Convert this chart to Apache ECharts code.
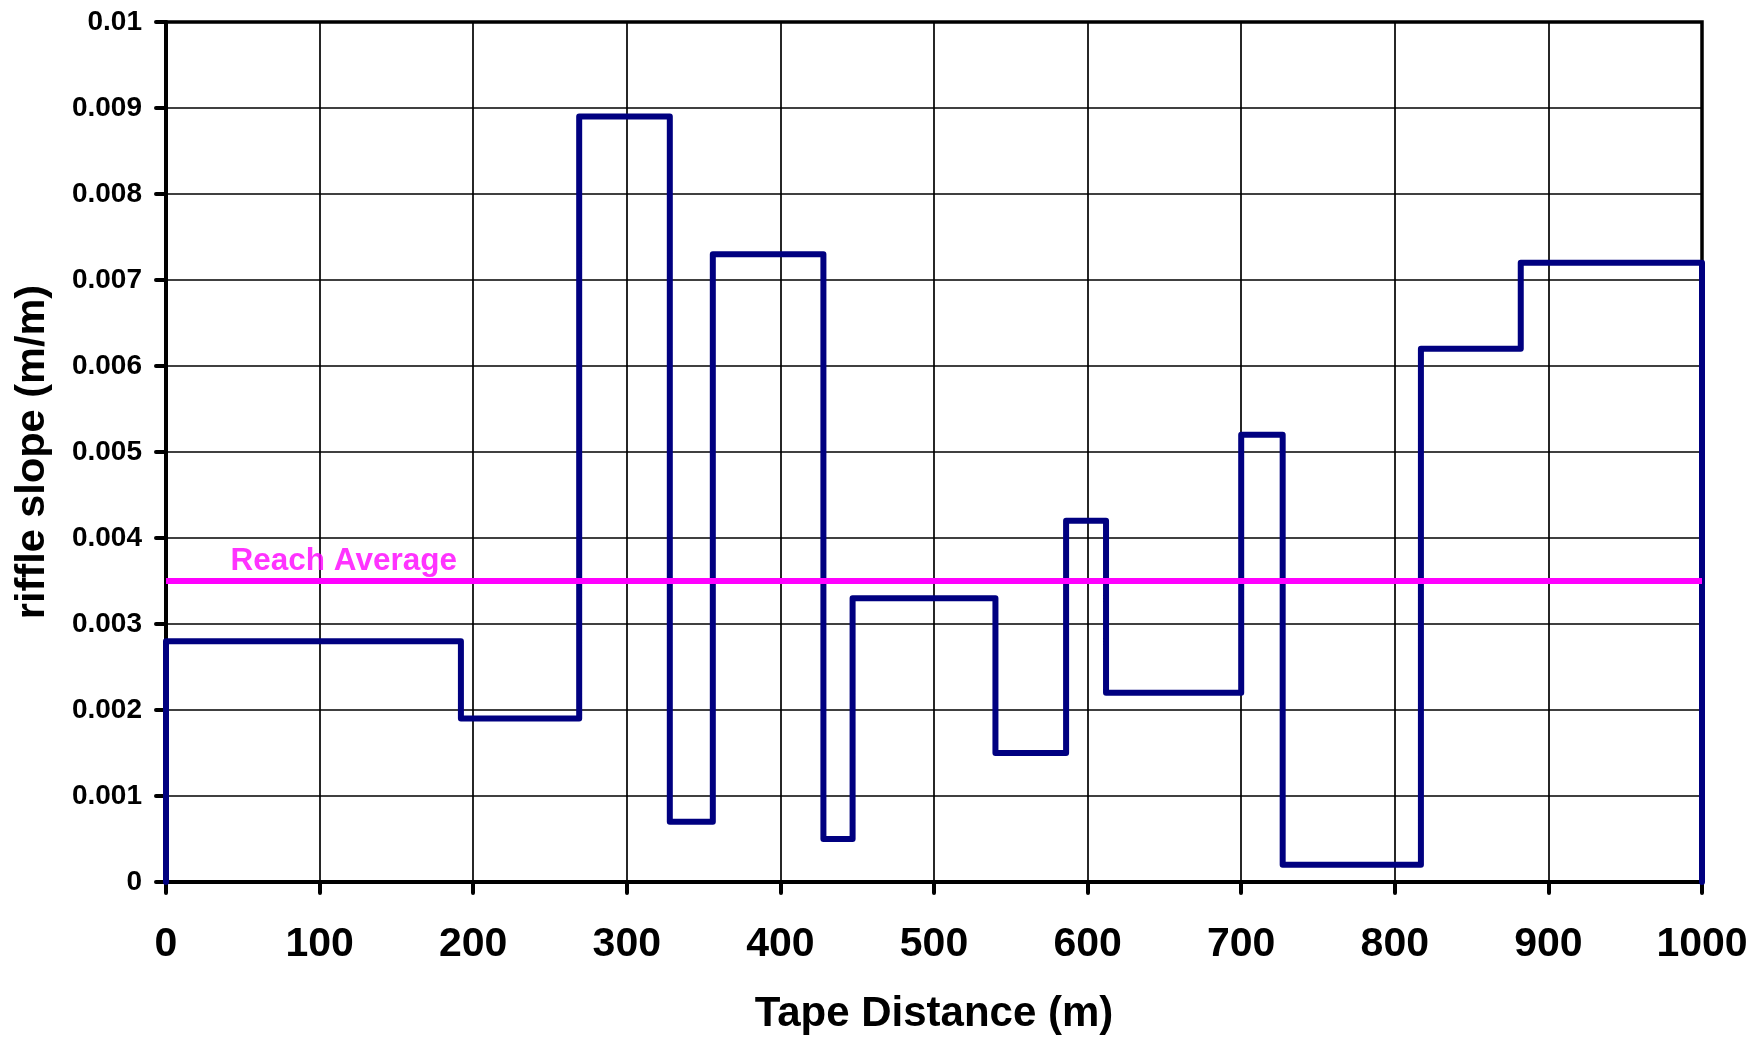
<!DOCTYPE html>
<html>
<head>
<meta charset="utf-8">
<script src="https://cdn.jsdelivr.net/npm/echarts@6/dist/echarts.min.js"></script>
<style>
html,body{margin:0;padding:0;background:#fff;}
#chart{width:1753px;height:1040px;}
</style>
</head>
<body>
<div id="chart"></div>
<script>
// Riffle boundaries along tape distance (m) and slope of each riffle segment (m/m)
const boundaries = [0, 192, 269, 328, 356, 428, 447, 540, 586, 612, 700, 727, 817, 882, 1000];
const slopes = [0.0028, 0.0019, 0.0089, 0.0007, 0.0073, 0.0005, 0.0033, 0.0015, 0.0042, 0.0022, 0.0052, 0.0002, 0.0062, 0.0072];
const reachAverage = 0.0035;
const reachRange = [0, 1000];
const reachLabel = 'Reach Average';
const reachLabelAt = 42;
const xTicks = [0, 100, 200, 300, 400, 500, 600, 700, 800, 900, 1000];
const yTicks = [0, 0.001, 0.002, 0.003, 0.004, 0.005, 0.006, 0.007, 0.008, 0.009, 0.01];

// build step outline from the arrays
const stepData = [[boundaries[0], 0]];
for (let i = 0; i < slopes.length; i++) {
  stepData.push([boundaries[i], slopes[i]]);
  stepData.push([boundaries[i + 1], slopes[i]]);
}
stepData.push([boundaries[boundaries.length - 1], 0]);

const FONT = '"Liberation Sans", Arial, sans-serif';
const chart = echarts.init(document.getElementById('chart'), null, {renderer: 'canvas'});
chart.setOption({
  animation: false,
  backgroundColor: '#fff',
  grid: {left: 166, right: 51, top: 22, bottom: 154, show: true, borderColor: '#000', borderWidth: 3.5, backgroundColor: 'transparent'},
  xAxis: {
    type: 'value', min: xTicks[0], max: xTicks[xTicks.length - 1], interval: 100,
    name: 'Tape Distance (m)', nameLocation: 'middle', nameGap: 111,
    nameTextStyle: {fontFamily: FONT, fontWeight: 'bold', fontSize: 42, color: '#000'},
    axisLine: {show: true, lineStyle: {color: '#000', width: 4}},
    axisTick: {show: true, inside: false, length: 11, lineStyle: {color: '#000', width: 4, cap: 'round'}},
    axisLabel: {margin: 42, fontFamily: FONT, fontWeight: 'bold', fontSize: 41, color: '#000',
      formatter: v => String(Math.round(v))},
    splitLine: {show: true, lineStyle: {color: '#000', width: 1.7}}
  },
  yAxis: {
    type: 'value', min: yTicks[0], max: yTicks[yTicks.length - 1], interval: 0.001,
    name: 'riffle slope (m/m)', nameLocation: 'middle', nameGap: 112, nameRotate: 90,
    nameTextStyle: {fontFamily: FONT, fontWeight: 'bold', fontSize: 41.5, color: '#000'},
    axisLine: {show: true, lineStyle: {color: '#000', width: 4}},
    axisTick: {show: true, inside: false, length: 10, lineStyle: {color: '#000', width: 4, cap: 'round'}},
    axisLabel: {margin: 24, fontFamily: FONT, fontWeight: 'bold', fontSize: 28, color: '#000',
      formatter: v => String(+v.toFixed(3))},
    splitLine: {show: true, lineStyle: {color: '#000', width: 1.7}}
  },
  series: [
    {
      type: 'line', data: stepData, symbol: 'none', clip: false, z: 3,
      lineStyle: {color: '#000080', width: 6, cap: 'round', join: 'round'}
    },
    {
      type: 'line', data: [[reachRange[0], reachAverage], [reachRange[1], reachAverage]],
      symbol: 'none', clip: false, z: 4,
      lineStyle: {color: '#FF00FF', width: 6}
    },
    {
      type: 'scatter', data: [[reachLabelAt, reachAverage]], symbolSize: 0, z: 5,
      label: {show: true, position: 'top', align: 'left', distance: 4, formatter: reachLabel,
        fontFamily: FONT, fontWeight: 'bold', fontSize: 31.5, color: '#FF00FF'}
    }
  ]
});
</script>
</body>
</html>
